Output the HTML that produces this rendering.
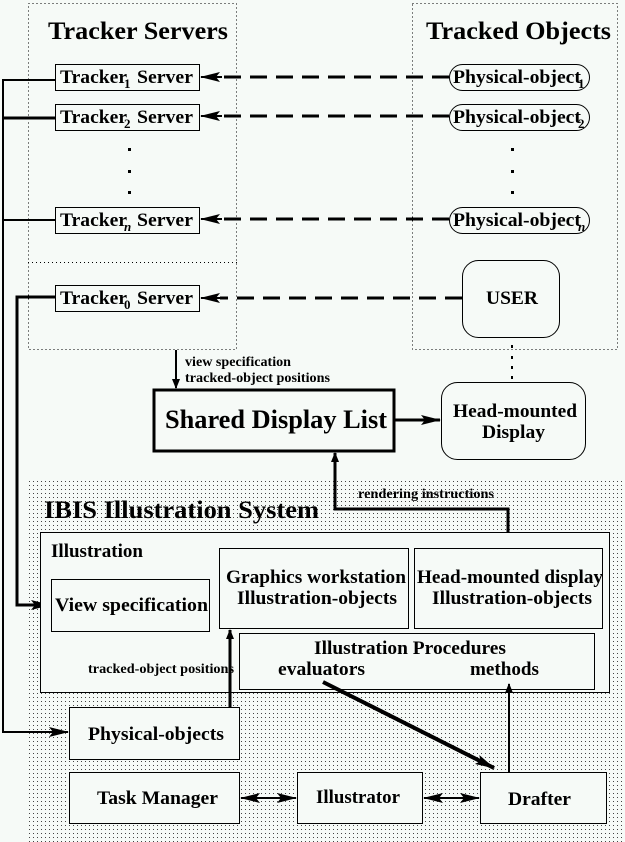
<!DOCTYPE html>
<html><head><style>
html,body{margin:0;padding:0;background:#f6faf7;}
svg{display:block;}
text{font-family:"Liberation Serif",serif;font-weight:bold;fill:#000;}
</style></head><body>
<svg width="625" height="842" viewBox="0 0 625 842" xmlns="http://www.w3.org/2000/svg">
<defs>
<pattern id="dots" width="4" height="4" patternUnits="userSpaceOnUse">
<rect x="1" y="1" width="1" height="1" fill="#444"/>
</pattern>
<marker id="ah" markerWidth="10" markerHeight="8" refX="9" refY="4" orient="auto" markerUnits="userSpaceOnUse">
<path d="M0,0 L10,4 L0,8 Z" fill="#000"/>
</marker>
<marker id="ah2" markerWidth="20" markerHeight="10" refX="19" refY="5" orient="auto" markerUnits="userSpaceOnUse">
<path d="M0,0 L20,5 L0,10 L4,5 Z" fill="#000"/>
</marker>
<marker id="ahs" markerWidth="20" markerHeight="10" refX="1" refY="5" orient="auto" markerUnits="userSpaceOnUse">
<path d="M20,0 L0,5 L20,10 L16,5 Z" fill="#000"/>
</marker>
</defs>
<rect width="625" height="842" fill="#f6faf7"/>

<rect x="28.5" y="3.5" width="208" height="346" fill="none" stroke="#000" stroke-dasharray="1,3"/>
<line x1="28" y1="262.5" x2="237" y2="262.5" stroke="#000" stroke-dasharray="1,3"/>
<rect x="412.5" y="3.5" width="205" height="346" fill="none" stroke="#000" stroke-dasharray="1,3"/>
<rect x="28" y="480" width="597" height="362" fill="url(#dots)"/>

<text x="48" y="39" font-size="25" textLength="180" lengthAdjust="spacingAndGlyphs">Tracker Servers</text>
<text x="426" y="39" font-size="25" textLength="185" lengthAdjust="spacingAndGlyphs">Tracked Objects</text>

<g fill="#f6faf7" stroke="#000" stroke-width="1">
<rect x="55.5" y="64.5" width="144" height="26"/>
<rect x="55.5" y="104.5" width="144" height="26"/>
<rect x="55.5" y="207.5" width="144" height="26"/>
<rect x="55.5" y="285.5" width="144" height="26"/>
<rect x="449.5" y="64.5" width="140" height="26" rx="13"/>
<rect x="449.5" y="104.5" width="140" height="26" rx="13"/>
<rect x="449.5" y="207.5" width="140" height="26" rx="13"/>
<rect x="462.5" y="260.5" width="97" height="77" rx="16"/>
<rect x="441.5" y="382.5" width="144" height="77" rx="16"/>
</g>
<g font-size="19">
<text x="60" y="83" textLength="67" lengthAdjust="spacingAndGlyphs">Tracker</text><text x="124" y="88" font-size="13">1</text><text x="137" y="83" textLength="56" lengthAdjust="spacingAndGlyphs">Server</text>
<text x="60" y="123" textLength="67" lengthAdjust="spacingAndGlyphs">Tracker</text><text x="124" y="128" font-size="13">2</text><text x="137" y="123" textLength="56" lengthAdjust="spacingAndGlyphs">Server</text>
<text x="60" y="226" textLength="67" lengthAdjust="spacingAndGlyphs">Tracker</text><text x="124" y="231" font-size="13" font-style="italic">n</text><text x="137" y="226" textLength="56" lengthAdjust="spacingAndGlyphs">Server</text>
<text x="60" y="304" textLength="67" lengthAdjust="spacingAndGlyphs">Tracker</text><text x="124" y="309" font-size="13">0</text><text x="137" y="304" textLength="56" lengthAdjust="spacingAndGlyphs">Server</text>
<text x="453" y="83" textLength="128" lengthAdjust="spacingAndGlyphs">Physical-object</text><text x="578" y="88" font-size="13">1</text>
<text x="453" y="123" textLength="128" lengthAdjust="spacingAndGlyphs">Physical-object</text><text x="578" y="128" font-size="13">2</text>
<text x="453" y="226" textLength="128" lengthAdjust="spacingAndGlyphs">Physical-object</text><text x="578" y="231" font-size="13" font-style="italic">n</text>
<text x="486" y="304" textLength="52" lengthAdjust="spacingAndGlyphs">USER</text>
<text x="453" y="417" textLength="124" lengthAdjust="spacingAndGlyphs">Head-mounted</text>
<text x="482" y="438" textLength="63" lengthAdjust="spacingAndGlyphs">Display</text>
</g>
<g fill="#000">
<rect x="128" y="148" width="3" height="3"/><rect x="128" y="170" width="3" height="3"/><rect x="128" y="191" width="3" height="3"/>
<rect x="511" y="148" width="3" height="3"/><rect x="511" y="170" width="3" height="3"/><rect x="511" y="191" width="3" height="3"/>
<rect x="511" y="345" width="2" height="3"/><rect x="511" y="356" width="2" height="3"/><rect x="511" y="366" width="2" height="3"/><rect x="511" y="376" width="2" height="3"/>
</g>

<g stroke="#000" stroke-width="3" stroke-dasharray="17,9">
<line x1="449" y1="77" x2="220" y2="77"/>
<line x1="449" y1="116" x2="220" y2="116"/>
<line x1="449" y1="219" x2="220" y2="219"/>
<line x1="462" y1="298" x2="220" y2="298"/>
</g>
<g stroke="#000" stroke-width="2">
<line x1="222" y1="77" x2="201" y2="77" marker-end="url(#ah2)"/>
<line x1="222" y1="116" x2="201" y2="116" marker-end="url(#ah2)"/>
<line x1="222" y1="219" x2="201" y2="219" marker-end="url(#ah2)"/>
<line x1="222" y1="298" x2="201" y2="298" marker-end="url(#ah2)"/>
</g>

<g stroke="#000" stroke-width="2" fill="none">
<polyline points="55,80 3,80 3,733"/>
<line x1="3" y1="118" x2="55" y2="118" stroke-width="3"/>
<line x1="3" y1="220" x2="55" y2="220"/>
<polyline points="55,297 17,297 17,605 50,605" stroke-width="3" marker-end="url(#ah2)"/>
<line x1="3" y1="732" x2="68" y2="732" marker-end="url(#ah2)"/>
<line x1="176" y1="350" x2="176" y2="388" marker-end="url(#ah)"/>
<line x1="393" y1="420" x2="440" y2="420" stroke-width="3" marker-end="url(#ah2)"/>
<polyline points="508,548 508,509 335,509 335,453" stroke-width="3" marker-end="url(#ah)"/>
</g>
<text x="185" y="366" font-size="14" textLength="106" lengthAdjust="spacingAndGlyphs">view specification</text>
<text x="185" y="382" font-size="14" textLength="145" lengthAdjust="spacingAndGlyphs">tracked-object positions</text>

<rect x="154" y="390" width="240" height="61" fill="#f6faf7" stroke="#000" stroke-width="3"/>
<text x="165" y="428" font-size="26" textLength="222" lengthAdjust="spacingAndGlyphs">Shared Display List</text>

<text x="44" y="518" font-size="25" textLength="275" lengthAdjust="spacingAndGlyphs">IBIS Illustration System</text>
<text x="358" y="498" font-size="14" textLength="136" lengthAdjust="spacingAndGlyphs">rendering instructions</text>
<g fill="#f6faf7" stroke="#000" stroke-width="1">
<rect x="40.5" y="532.5" width="569" height="160"/>
<rect x="219.5" y="548.5" width="189" height="80"/>
<rect x="414.5" y="548.5" width="188" height="80"/>
<rect x="51.5" y="579.5" width="158" height="52"/>
<rect x="239.5" y="633.5" width="355" height="56"/>
<rect x="69.5" y="707.5" width="170" height="52"/>
<rect x="69.5" y="772.5" width="170" height="51"/>
<rect x="297.5" y="772.5" width="125" height="51"/>
<rect x="480.5" y="772.5" width="126" height="51"/>
</g>
<g font-size="19">
<text x="51" y="557" textLength="92" lengthAdjust="spacingAndGlyphs">Illustration</text>
<text x="226" y="583" textLength="180" lengthAdjust="spacingAndGlyphs">Graphics workstation</text>
<text x="237" y="604" textLength="160" lengthAdjust="spacingAndGlyphs">Illustration-objects</text>
<text x="417" y="583" textLength="186" lengthAdjust="spacingAndGlyphs">Head-mounted display</text>
<text x="432" y="604" textLength="160" lengthAdjust="spacingAndGlyphs">Illustration-objects</text>
<text x="55" y="611" textLength="153" lengthAdjust="spacingAndGlyphs">View specification</text>
<text x="314" y="654" textLength="192" lengthAdjust="spacingAndGlyphs">Illustration Procedures</text>
<text x="278" y="675" textLength="87" lengthAdjust="spacingAndGlyphs">evaluators</text>
<text x="470" y="675" textLength="69" lengthAdjust="spacingAndGlyphs">methods</text>
<text x="88" y="740" textLength="136" lengthAdjust="spacingAndGlyphs">Physical-objects</text>
<text x="97" y="804" textLength="121" lengthAdjust="spacingAndGlyphs">Task Manager</text>
<text x="316" y="803" textLength="84" lengthAdjust="spacingAndGlyphs">Illustrator</text>
<text x="508" y="805" textLength="63" lengthAdjust="spacingAndGlyphs">Drafter</text>
</g>
<text x="88" y="673" font-size="14" textLength="146" lengthAdjust="spacingAndGlyphs">tracked-object positions</text>

<g stroke="#000" stroke-width="3" fill="none">
<line x1="230" y1="707" x2="230" y2="630" marker-end="url(#ah)"/>
<line x1="509" y1="772" x2="509" y2="684" stroke-width="2" marker-end="url(#ah)"/>
<line x1="323" y1="682" x2="494" y2="768" stroke-width="4" marker-end="url(#ah2)"/>
<line x1="241" y1="798" x2="296" y2="798" stroke-width="2" marker-start="url(#ahs)" marker-end="url(#ah2)"/>
<line x1="424" y1="798" x2="479" y2="798" stroke-width="2" marker-start="url(#ahs)" marker-end="url(#ah2)"/>
</g>
</svg>
</body></html>
